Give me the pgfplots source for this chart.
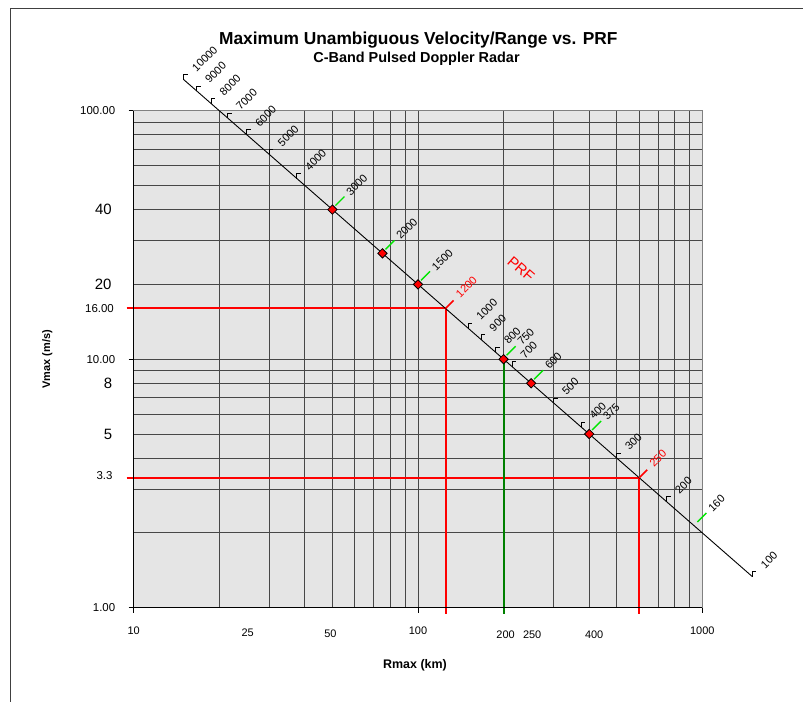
\documentclass[border=0pt]{standalone}
\usepackage{fontspec}
\setmainfont{Liberation Sans}
\usepackage{pgfplots}
\pgfplotsset{compat=1.18}

\definecolor{brightgreen}{RGB}{0,230,0}
\definecolor{darkgreen}{RGB}{0,128,0}
\definecolor{plotbg}{RGB}{229,229,229}
\newcommand{\fs}[1]{\fontsize{#1}{#1}\selectfont}

% PRF marks along the diagonal: Rmax, Vmax, label
\newcommand{\btick}[3]{%
  \draw[black, line width=0.8bp] (axis cs:#1,#2) -- ++(0bp,5bp) -- ++(4bp,0bp);
  \path (axis cs:#1,#2) ++(13bp,7bp) node[rotate=45, anchor=south west, inner sep=0, font=\fs{11}] {#3};}
\newcommand{\gtick}[3]{%
  \draw[brightgreen, line width=1.4bp] (axis cs:#1,#2) ++(3bp,4bp) -- ++(9bp,9bp);
  \path (axis cs:#1,#2) ++(18.5bp,13bp) node[rotate=45, anchor=south west, inner sep=0, font=\fs{11}] {#3};}
\newcommand{\rtick}[3]{%
  \draw[red, line width=1.6bp] (axis cs:#1,#2) -- ++(8bp,8bp);
  \path (axis cs:#1,#2) ++(15bp,10bp) node[rotate=45, anchor=south west, inner sep=0, font=\fs{11}, text=red] {#3};}

\begin{document}
\begin{tikzpicture}[x=1bp,y=1bp]
\useasboundingbox (0,0) rectangle (803,702);
\draw[black!75, line width=1bp] (10.3,0) -- (10.3,693) -- (803,693);
\node[anchor=base, font=\fs{17.4}\bfseries] at (418.3,657.7) {Maximum Unambiguous Velocity/Range vs. PRF};
\node[anchor=base, font=\fs{14.5}\bfseries] at (416.5,639.7) {C-Band Pulsed Doppler Radar};

\begin{axis}[
  at={(133.7bp,94.3bp)}, anchor=south west,
  scale only axis, width=568.6bp, height=497bp,
  xmode=log, ymode=log,
  xmin=10, xmax=1000, ymin=1, ymax=100,
  clip=false,
  axis background/.style={fill=plotbg},
  axis line style={black!50, line width=1bp},
  grid=both,
  major grid style={black!72, line width=1bp},
  minor grid style={black!72, line width=1bp},
  xtick={10,100,1000}, xticklabels={10,100,1000},
  ytick={1,10,100}, yticklabels={1.00,10.00,100.00},
  minor xtick={20,30,40,50,60,70,80,90,200,300,400,500,600,700,800,900},
  minor ytick={2,3,4,5,6,7,8,9,20,30,40,50,60,70,80,90},
  minor tick length=0pt,
  major tick length=5bp,
  tick align=outside,
  tick pos=left,
  tick style={black, line width=0.8bp},
  xticklabel style={font=\fs{11}, yshift=-11bp},
  yticklabel style={font=\fs{11.5}, xshift=-10bp},
  /pgf/number format/assume math mode=true,
  xlabel={Rmax (km)},
  xlabel style={at={(axis description cs:0.4947,-0.1219)}, anchor=base, font=\fs{12.5}\bfseries},
  ylabel={Vmax (m/s)},
  ylabel style={at={(axis description cs:-0.152,0.5)}, anchor=center, font=\fs{11}\bfseries},
]

% reading lines (each segment on its own)
\addplot[red, line width=2bp] coordinates {(9.45,16) (125,16)};
\addplot[red, line width=2bp] coordinates {(125,16) (125,0.946)};
\addplot[red, line width=2bp] coordinates {(9.45,3.3333) (600,3.3333)};
\addplot[red, line width=2bp] coordinates {(600,3.3333) (600,0.946)};
\addplot[darkgreen, line width=2bp] coordinates {(200,10) (200,0.946)};

% left and bottom axis lines in black
\draw[black, line width=1bp] (rel axis cs:0,1) -- (rel axis cs:0,0) -- (rel axis cs:1,0);

% PRF line: Rmax (km) vs Vmax (m/s)
\addplot[black, line width=0.9bp] coordinates {
  (15,133.33) (16.667,120) (18.75,106.67) (21.429,93.333) (25,80)
  (30,66.667) (37.5,53.333) (50,40) (75,26.667) (100,20) (125,16)
  (150,13.333) (166.67,12) (187.5,10.667) (200,10) (214.29,9.3333)
  (250,8) (300,6.6667) (375,5.3333) (400,5) (500,4) (600,3.3333)
  (750,2.6667) (937.5,2.1333) (1500,1.3333)
};

\addplot[only marks, mark=square*, mark size=3.3bp,
  mark options={rotate=45, fill=red, draw=black, line width=0.8bp}]
  coordinates {(50,40) (75,26.667) (100,20) (200,10) (250,8) (400,5)};

\btick{15}{133.33}{10000}
\btick{16.667}{120}{9000}
\btick{18.75}{106.67}{8000}
\btick{21.429}{93.333}{7000}
\btick{25}{80}{6000}
\btick{30}{66.667}{5000}
\btick{37.5}{53.333}{4000}
\gtick{50}{40}{3000}
\gtick{75}{26.667}{2000}
\gtick{100}{20}{1500}
\rtick{125}{16}{1200}
\btick{150}{13.333}{1000}
\btick{166.67}{12}{900}
\btick{187.5}{10.667}{800}
\gtick{200}{10}{750}
\btick{214.29}{9.3333}{700}
\gtick{250}{8}{600}
\btick{300}{6.6667}{500}
\btick{375}{5.3333}{400}
\gtick{400}{5}{375}
\btick{500}{4}{300}
\rtick{600}{3.3333}{250}
\btick{750}{2.6667}{200}
\gtick{937.5}{2.1333}{160}
\btick{1500}{1.3333}{100}

\node[text=red, font=\fs{15}, rotate=-41] at (axis cs:230.3,23.07) {PRF};

% extra value labels on the axes
\node[anchor=east, inner sep=0, font=\fs{15}] at (axis cs:10,40) [xshift=-21.7bp] {40};
\node[anchor=east, inner sep=0, font=\fs{15}] at (axis cs:10,20) [xshift=-22bp] {20};
\node[anchor=east, inner sep=0, font=\fs{11.5}] at (axis cs:10,16) [xshift=-19.7bp] {16.00};
\node[anchor=east, inner sep=0, font=\fs{15}] at (axis cs:10,8) [xshift=-21.4bp] {8};
\node[anchor=east, inner sep=0, font=\fs{15}] at (axis cs:10,5) [xshift=-21.4bp] {5};
\node[anchor=east, inner sep=0, font=\fs{11.5}] at (axis cs:10,3.3333) [xshift=-21bp, yshift=2bp] {3.3};
\node[inner sep=0, font=\fs{11}] at (axis cs:25,1) [xshift=0.8bp, yshift=-25.1bp] {25};
\node[inner sep=0, font=\fs{11}] at (axis cs:50,1) [xshift=-2bp, yshift=-26.3bp] {50};
\node[inner sep=0, font=\fs{11}] at (axis cs:200,1) [xshift=2bp, yshift=-27.3bp] {200};
\node[inner sep=0, font=\fs{11}] at (axis cs:250,1) [xshift=1bp, yshift=-27.3bp] {250};
\node[inner sep=0, font=\fs{11}] at (axis cs:400,1) [xshift=5bp, yshift=-27.3bp] {400};
\end{axis}
\end{tikzpicture}
\end{document}
